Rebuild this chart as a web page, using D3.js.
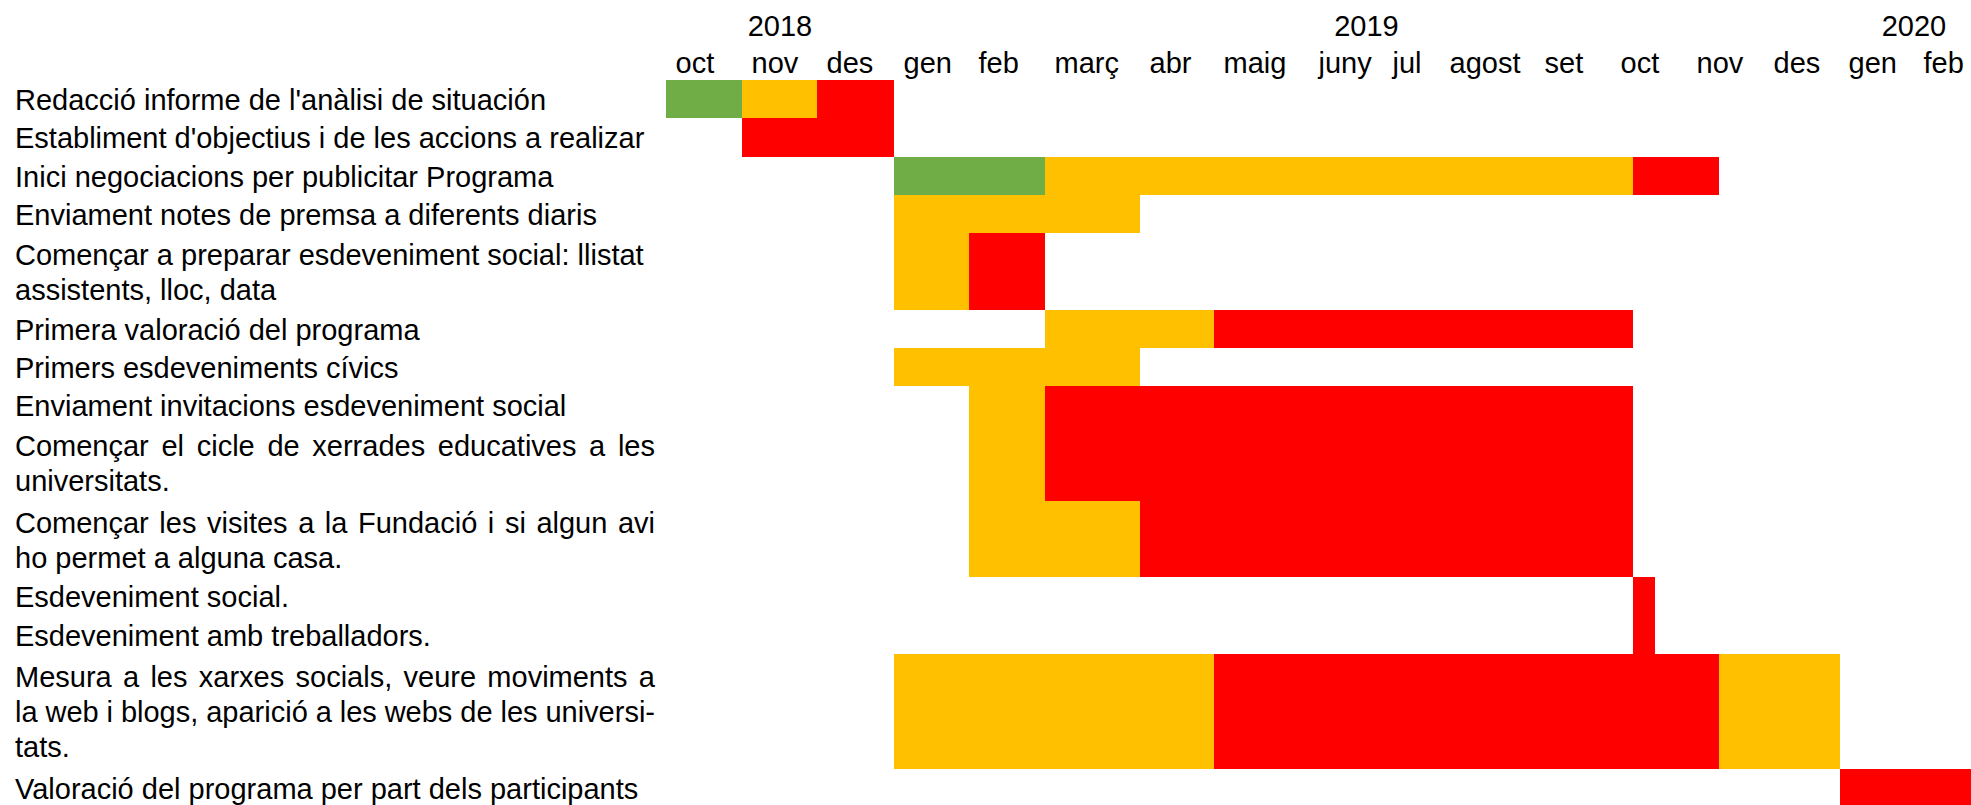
<!DOCTYPE html>
<html>
<head>
<meta charset="utf-8">
<script src="https://cdn.jsdelivr.net/npm/d3@7"></script>
<style>
  html, body { margin: 0; padding: 0; background: #fff; overflow: hidden; }
  svg { display: block; }
  text { font-family: "Liberation Sans", Arial, sans-serif; fill: #000; }
</style>
</head>
<body>
<svg id="chart" width="1971" height="805"></svg>
<script>
// ---------------- DATA ----------------
const months = ["oct","nov","des","gen","feb","març","abr","maig","juny","jul","agost","set","oct","nov","des","gen","feb"];
const yearLabels = ["2018","2019","2020"];
const yearStart = [0, 3, 15];   // month index where each year begins
const yearEnd   = [3, 15, 17];

const taskLabels = [
  ["Redacció informe de l'anàlisi de situación"],
  ["Establiment d'objectius i de les accions a realizar"],
  ["Inici negociacions per publicitar Programa"],
  ["Enviament notes de premsa a diferents diaris"],
  ["Començar a preparar esdeveniment social: llistat", "assistents, lloc, data"],
  ["Primera valoració del programa"],
  ["Primers esdeveniments cívics"],
  ["Enviament invitacions esdeveniment social"],
  ["Començar el cicle de xerrades educatives a les", "universitats."],
  ["Començar les visites a la Fundació i si algun avi", "ho permet a alguna casa."],
  ["Esdeveniment social."],
  ["Esdeveniment amb treballadors."],
  ["Mesura a les xarxes socials, veure moviments a", "la web i blogs, aparició a les webs de les universi-", "tats."],
  ["Valoració del programa per part dels participants"]
];
// paragraphs whose non-final lines are justified
const justified = [false,false,false,false,false,false,false,false,true,true,false,false,true,false];

// status: F = fet (green), C = en curs (yellow), P = pendent (red)
const segTask  = [0,0,0, 1, 2,2,2, 3, 4,4, 5,5, 6, 7,7, 8,8, 9,9, 10, 11, 12,12,12, 13];
const segStart = [0,1,2, 1, 3,5,12, 3, 3,4, 5,7, 3, 4,5, 4,5, 4,6, 12, 12, 3,7,13, 15];
const segEnd   = [1,2,3, 3, 5,12,13, 6, 4,5, 7,12, 6, 5,12, 5,12, 6,12, 12.25, 12.25, 7,13,15, 17];
const segStatus= ["F","C","P", "P", "F","C","P", "C", "C","P", "C","P", "C", "C","P", "C","P", "C","P", "P", "P", "C","P","C", "P"];

// ---------------- LAYOUT ----------------
const statusColor = { F: "#70AD47", C: "#FFC000", P: "#FF0000" };
const headerEdges = [666,742,817,894,969,1045,1140,1214,1309,1383,1440,1535,1611,1687,1764,1839,1914,1989];
const bodyEdges   = [666,742,817,894,969,1045,1140,1214,1298,1382,1465,1549,1633,1719,1780,1840,1914,1989];
const fontSize = 29;
const lineH = 38.25;
const top0 = 80;
const labelX = 15, labelRight = 655;
const lineGap = 35;

const svg = d3.select("#chart");

const xHead = d3.scaleLinear().domain(d3.range(months.length + 1)).range(headerEdges);
const xBody = d3.scaleLinear().domain(d3.range(months.length + 1)).range(bodyEdges);

const lineCounts = taskLabels.map(l => l.length);
const cum = [0];
lineCounts.forEach((c, i) => cum.push(cum[i] + c));
const totalLines = cum[cum.length - 1];
const y = d3.scaleLinear().domain([0, totalLines]).range([top0, top0 + totalLines * lineH]);

// ---------------- BARS ----------------
const segs = segTask.map((t, i) => ({ t, s: segStart[i], e: segEnd[i], st: segStatus[i] }));
svg.append("g").attr("shape-rendering", "crispEdges")
  .selectAll("rect").data(segs).join("rect")
  .attr("x", d => xBody(d.s))
  .attr("width", d => xBody(d.e) - xBody(d.s))
  .attr("y", d => y(cum[d.t]))
  .attr("height", d => y(cum[d.t] + lineCounts[d.t]) - y(cum[d.t]))
  .attr("fill", d => statusColor[d.st]);

// ---------------- HEADER ----------------
svg.append("g").selectAll("text").data(months).join("text")
  .attr("x", (d, i) => xHead(i) + 9.5)
  .attr("y", 73)
  .attr("font-size", fontSize)
  .text(d => d);

svg.append("g").selectAll("text").data(yearLabels).join("text")
  .attr("x", (d, i) => (xHead(yearStart[i]) + xHead(yearEnd[i])) / 2)
  .attr("y", 36)
  .attr("text-anchor", "middle")
  .attr("font-size", fontSize)
  .text(d => d);

// ---------------- LABELS ----------------
const lg = svg.append("g");
taskLabels.forEach((lines, ti) => {
  const center = (y(cum[ti]) + y(cum[ti] + lines.length)) / 2;
  const first = center - (lines.length - 1) * lineGap / 2 + 11;
  lines.forEach((ln, li) => {
    const t = lg.append("text")
      .attr("x", labelX)
      .attr("y", first + li * lineGap)
      .attr("font-size", fontSize)
      .text(ln);
    if (justified[ti] && li < lines.length - 1) {
      const nat = t.node().getComputedTextLength();
      const spaces = (ln.match(/ /g) || []).length;
      if (spaces > 0) {
        t.attr("word-spacing", ((labelRight - labelX) - nat) / spaces);
      }
    }
  });
});
</script>
</body>
</html>
